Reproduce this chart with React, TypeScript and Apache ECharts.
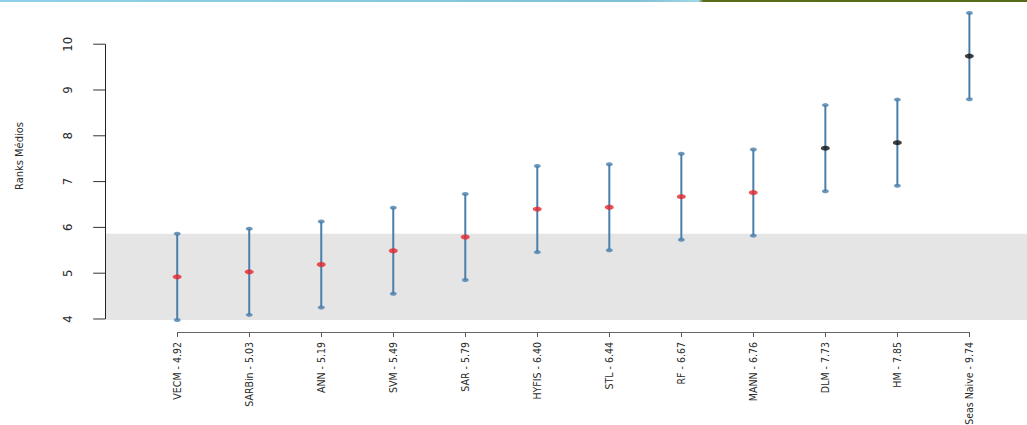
import React, { useEffect, useRef } from "react";
import * as echarts from "echarts";

// Mean ranks with their critical-difference intervals (Nemenyi style)
const methods = ["VECM", "SARBin", "ANN", "SVM", "SAR", "HYFIS", "STL", "RF", "MANN", "DLM", "HM", "Seas Naive"];
const meanRanks = [4.92, 5.03, 5.19, 5.49, 5.79, 6.4, 6.44, 6.67, 6.76, 7.73, 7.85, 9.74];
const lowerBounds = [3.98, 4.09, 4.25, 4.55, 4.85, 5.46, 5.5, 5.73, 5.82, 6.79, 6.91, 8.8];
const upperBounds = [5.86, 5.97, 6.13, 6.43, 6.73, 7.34, 7.38, 7.61, 7.7, 8.67, 8.79, 10.68];
// 1 = not significantly different from the best method (drawn red), 0 = drawn black
const sameAsBest = [1, 1, 1, 1, 1, 1, 1, 1, 1, 0, 0, 0];
const yTicks = [4, 5, 6, 7, 8, 9, 10];
const xTicks = methods.map((_, i) => i);

const FONT = '"DejaVu Sans Condensed", "Liberation Sans Narrow", sans-serif';
const BAR = "#4a7fab";

export default function App() {
  const ref = useRef<HTMLDivElement>(null);

  useEffect(() => {
    if (!ref.current) return;
    const chart = echarts.init(ref.current, undefined, { renderer: "svg" });
    const yMin = 3.716;
    const yMax = 10.965;
    const xMin = -1.1;
    const yAxisAt = -1;

    const intervals = methods.map((_, i) => [i, lowerBounds[i], upperBounds[i]]);
    const caps = methods.flatMap((_, i) => [[i, lowerBounds[i]], [i, upperBounds[i]]]);
    const redPoints = methods.map((_, i) => [i, meanRanks[i]]).filter((_, i) => sameAsBest[i] === 1);
    const blackPoints = methods.map((_, i) => [i, meanRanks[i]]).filter((_, i) => sameAsBest[i] === 0);

    chart.setOption({
      animation: false,
      backgroundColor: "#ffffff",
      grid: { left: 98, right: 0, top: 0, bottom: 93, containLabel: false, outerBoundsMode: "none" },
      graphic: [
        {
          type: "rect",
          left: 0,
          top: 0,
          shape: { width: 1027, height: 2 },
          style: {
            fill: new echarts.graphic.LinearGradient(0, 0, 1, 0, [
              { offset: 0, color: "#8fd1e8" },
              { offset: 0.4, color: "#86c8de" },
              { offset: 0.62, color: "#7fbfd6" },
              { offset: 0.68, color: "#a2d8e8" },
              { offset: 0.685, color: "#5b6c18" },
              { offset: 1, color: "#546a16" },
            ]),
          },
          silent: true,
        },
      ],
      xAxis: {
        type: "value",
        min: xMin,
        max: 11.8,
        splitLine: { show: false },
        axisLine: { show: false, onZero: false },
        axisTick: { show: true, customValues: xTicks, length: 5, lineStyle: { color: "#555" } },
        axisLabel: {
          customValues: xTicks,
          rotate: 90,
          margin: 10,
          fontSize: 10.5,
          fontFamily: FONT,
          color: "#2a2a2a",
          formatter: (v: number) => `${methods[v]} - ${meanRanks[v].toFixed(2)}`,
        },
      },
      yAxis: {
        type: "value",
        min: yMin,
        max: yMax,
        name: "Ranks Médios",
        nameLocation: "middle",
        nameGap: 73,
        nameTextStyle: { fontSize: 11, fontFamily: FONT, color: "#2a2a2a", padding: [0, 0, 0, 20] },
        splitLine: { show: false },
        axisLine: { show: false, onZero: false },
        axisTick: { show: false },
        axisLabel: {
          customValues: yTicks,
          rotate: 90,
          margin: 24,
          fontSize: 13,
          fontFamily: FONT,
          color: "#2a2a2a",
        },
      },
      series: [
        {
          type: "custom",
          name: "interval",
          data: intervals,
          encode: { x: 0, y: [1, 2] },
          clip: false,
          renderItem: (_params: any, api: any) => {
            const lo = api.coord([api.value(0), api.value(1)]);
            const hi = api.coord([api.value(0), api.value(2)]);
            return {
              type: "line",
              shape: { x1: lo[0], y1: lo[1], x2: hi[0], y2: hi[1] },
              style: { stroke: BAR, lineWidth: 2 },
            };
          },
          markArea: {
            silent: true,
            itemStyle: { color: "#e5e5e5" },
            data: [[{ coord: [yAxisAt, lowerBounds[0]] }, { coord: [11.8, upperBounds[0]] }]],
          },
          z: 2,
        },
        {
          type: "scatter",
          name: "caps",
          data: caps,
          symbol: "circle",
          symbolSize: [7, 4],
          itemStyle: { color: BAR },
          clip: false,
          silent: true,
          z: 3,
          markLine: {
            silent: true,
            symbol: "none",
            label: { show: false },
            data: [
              [
                { coord: [yAxisAt, yTicks[0]], lineStyle: { color: "#222", width: 1, type: "solid" } },
                { coord: [yAxisAt, yTicks[yTicks.length - 1]] },
              ],
              [
                { coord: [xTicks[0], yMin], lineStyle: { color: "#666", width: 1, type: "solid" } },
                { coord: [xTicks[xTicks.length - 1], yMin] },
              ],
            ],
          },
        },
        {
          // y-axis ticks, drawn against the y-axis line
          type: "custom",
          name: "yTicks",
          data: yTicks.map((v) => [yAxisAt, v]),
          encode: { x: 0, y: 1 },
          clip: false,
          silent: true,
          renderItem: (_params: any, api: any) => {
            const p = api.coord([api.value(0), api.value(1)]);
            return {
              type: "line",
              shape: { x1: p[0] - 12, y1: p[1], x2: p[0], y2: p[1] },
              style: { stroke: "#333", lineWidth: 1 },
            };
          },
        },
        {
          type: "scatter",
          name: "mean rank",
          data: redPoints,
          symbol: "circle",
          symbolSize: [9, 5],
          itemStyle: { color: "#e3272d" },
          clip: false,
          z: 4,
        },
        {
          type: "scatter",
          name: "mean rank (different)",
          data: blackPoints,
          symbol: "circle",
          symbolSize: [9, 5],
          itemStyle: { color: "#111" },
          clip: false,
          z: 4,
        },
      ],
    });

    return () => chart.dispose();
  }, []);

  return (
    <div
      ref={ref}
      style={{ position: "fixed", left: 0, top: 0, width: 1027, height: 425, background: "#fff" }}
    />
  );
}
